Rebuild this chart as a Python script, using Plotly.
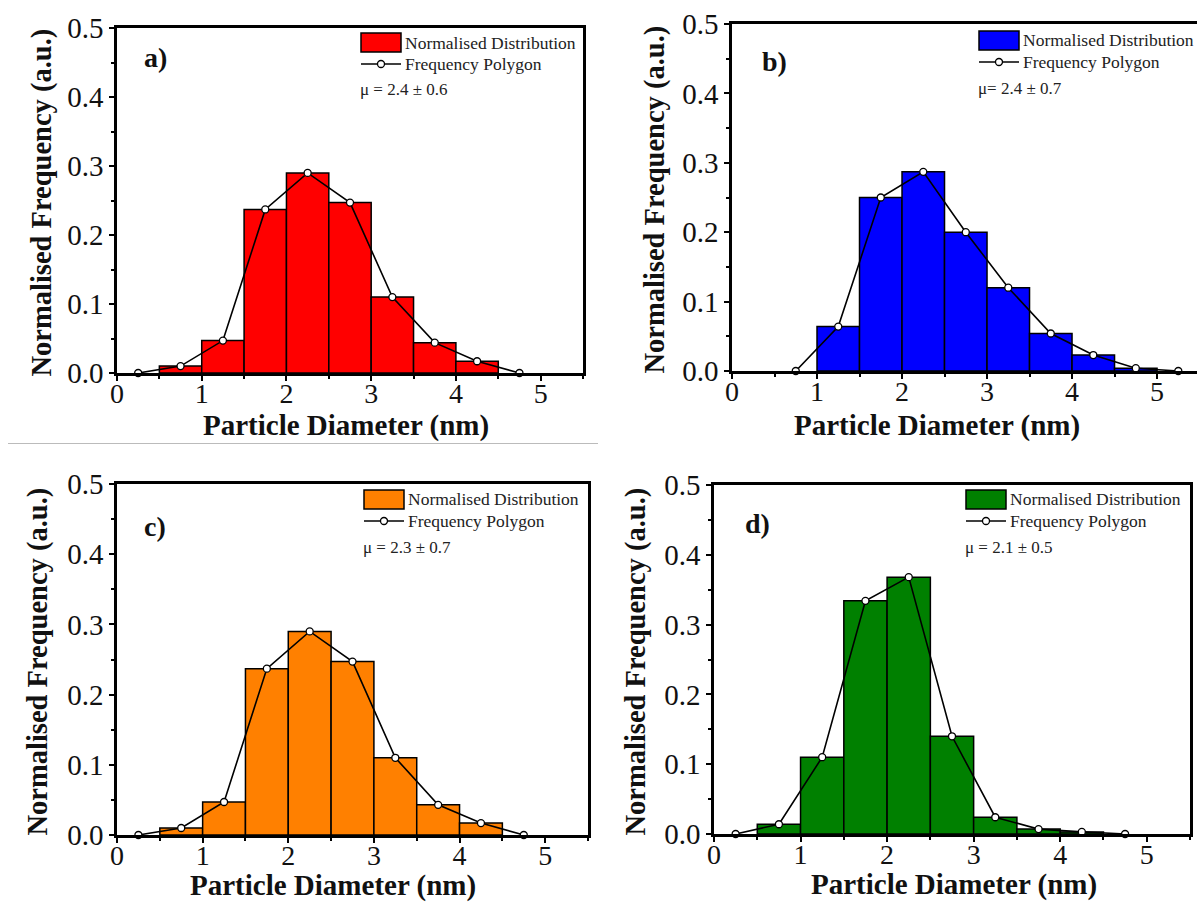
import plotly.graph_objects as go

W, H = 1197, 904

# ---- data -------------------------------------------------------------
panel_labels = ["a)", "b)", "c)", "d)"]
bar_colors = ["#FF0000", "#0000FF", "#FF8000", "#008000"]
mean_texts = ["μ = 2.4 ± 0.6", "μ= 2.4 ± 0.7", "μ = 2.3 ± 0.7", "μ = 2.1 ± 0.5"]

# histogram bins (centres, width 0.5 nm) and normalised frequencies
bins_a = [0.75, 1.25, 1.75, 2.25, 2.75, 3.25, 3.75, 4.25]
freq_a = [0.010, 0.047, 0.237, 0.290, 0.247, 0.110, 0.044, 0.017]

bins_b = [1.25, 1.75, 2.25, 2.75, 3.25, 3.75, 4.25, 4.75]
freq_b = [0.064, 0.250, 0.287, 0.200, 0.120, 0.054, 0.023, 0.004]

bins_c = [0.75, 1.25, 1.75, 2.25, 2.75, 3.25, 3.75, 4.25]
freq_c = [0.010, 0.047, 0.237, 0.290, 0.247, 0.110, 0.043, 0.017]

bins_d = [0.75, 1.25, 1.75, 2.25, 2.75, 3.25, 3.75, 4.25]
freq_d = [0.014, 0.110, 0.334, 0.368, 0.140, 0.024, 0.007, 0.003]

# frequency polygons (bin centres incl. the empty end bins)
poly_x_a = [0.25, 0.75, 1.25, 1.75, 2.25, 2.75, 3.25, 3.75, 4.25, 4.75]
poly_y_a = [0.0, 0.010, 0.047, 0.237, 0.290, 0.247, 0.110, 0.044, 0.017, 0.0]

poly_x_b = [0.75, 1.25, 1.75, 2.25, 2.75, 3.25, 3.75, 4.25, 4.75, 5.25]
poly_y_b = [0.0, 0.064, 0.250, 0.287, 0.200, 0.120, 0.054, 0.023, 0.004, 0.0]

poly_x_c = [0.25, 0.75, 1.25, 1.75, 2.25, 2.75, 3.25, 3.75, 4.25, 4.75]
poly_y_c = [0.0, 0.010, 0.047, 0.237, 0.290, 0.247, 0.110, 0.043, 0.017, 0.0]

poly_x_d = [0.25, 0.75, 1.25, 1.75, 2.25, 2.75, 3.25, 3.75, 4.25, 4.75]
poly_y_d = [0.0, 0.014, 0.110, 0.334, 0.368, 0.140, 0.024, 0.007, 0.003, 0.0]

x_ticks = [0, 1, 2, 3, 4, 5]
y_ticks = [0.0, 0.1, 0.2, 0.3, 0.4, 0.5]

bins = [bins_a, bins_b, bins_c, bins_d]
freqs = [freq_a, freq_b, freq_c, freq_d]
poly_x = [poly_x_a, poly_x_b, poly_x_c, poly_x_d]
poly_y = [poly_y_a, poly_y_b, poly_y_c, poly_y_d]

# ---- layout geometry (pixels) ------------------------------------------
# plot boxes: left, right, top, bottom, x range max
boxes = [
    (117, 583, 28, 373, 5.5),
    (732, 1197, 24, 371, 5.47),
    (117, 588, 484, 835, 5.5),
    (714, 1190, 485, 834, 5.5),
]
ytitle_x = [42, 654, 37, 635]
xtitle_pos = [(346, 425), (937, 425), (333, 885), (954, 884)]
label_pos = [(155, 57), (774, 61), (155, 526), (757, 523)]
# legend: swatch left x, swatch top y
legend_pos = [(361, 33), (979, 31), (364, 490), (966, 490)]

SERIF = "Liberation Serif, Times New Roman, serif"


def px(x):
    return x / W


def py(y):
    return 1 - y / H


fig = go.Figure()
layout = dict(
    width=W, height=H,
    margin=dict(l=0, r=0, t=0, b=0, autoexpand=False),
    paper_bgcolor="white", plot_bgcolor="white",
    showlegend=False,
    font=dict(family=SERIF, color="#111"),
)
shapes = []
annotations = []

for i in range(4):
    n = "" if i == 0 else str(i + 1)
    xa, ya = "x" + n, "y" + n
    l, r, t, b, xmax = boxes[i]

    fig.add_trace(go.Bar(
        x=bins[i], y=freqs[i], width=0.5,
        marker=dict(color=bar_colors[i], line=dict(color="black", width=1.5)),
        xaxis=xa, yaxis=ya, name="Normalised Distribution",
    ))
    fig.add_trace(go.Scatter(
        x=poly_x[i], y=poly_y[i], mode="lines+markers",
        line=dict(color="black", width=1.6),
        marker=dict(symbol="circle", size=7, color="white",
                    line=dict(color="black", width=1.3)),
        xaxis=xa, yaxis=ya, name="Frequency Polygon", cliponaxis=False,
    ))

    layout["xaxis" + n] = dict(
        domain=[px(l), px(r)], anchor=ya, range=[0, xmax],
        showline=True, linecolor="black", linewidth=2.5, mirror=True,
        ticks="outside", ticklen=5, tickwidth=2, tickcolor="black",
        tickvals=x_ticks, tickfont=dict(family=SERIF, size=28, color="#111"),
        ticklabelstandoff=-11,
        minor=dict(dtick=0.5, tick0=0, ticks="outside", ticklen=3,
                   tickwidth=1.5, tickcolor="black"),
        showgrid=False, zeroline=False, fixedrange=True, automargin=False,
    )
    layout["yaxis" + n] = dict(
        domain=[py(b), py(t)], anchor=xa, range=[0, 0.5],
        showline=True, linecolor="black", linewidth=2.5,
        mirror=(i != 1),
        ticks="outside", ticklen=5, tickwidth=2, tickcolor="black",
        tickvals=y_ticks, tickformat=".1f",
        tickfont=dict(family=SERIF, size=29, color="#111"),
        minor=dict(dtick=0.05, tick0=0, ticks="outside", ticklen=3,
                   tickwidth=1.5, tickcolor="black"),
        showgrid=False, zeroline=False, fixedrange=True, automargin=False,
    )

    # axis titles
    annotations.append(dict(
        text="<b>Normalised Frequency (a.u.)</b>", textangle=-90,
        x=px(ytitle_x[i]), y=py((t + b) / 2 + 2), xref="paper", yref="paper",
        showarrow=False, font=dict(family=SERIF, size=28.5, color="#111"),
        xanchor="center", yanchor="middle",
    ))
    annotations.append(dict(
        text="<b>Particle Diameter (nm)</b>",
        x=px(xtitle_pos[i][0]), y=py(xtitle_pos[i][1]),
        xref="paper", yref="paper",
        showarrow=False, font=dict(family=SERIF, size=29, color="#111"),
        xanchor="center", yanchor="middle", borderpad=0,
    ))
    # panel letter
    annotations.append(dict(
        text="<b>%s</b>" % panel_labels[i], x=px(label_pos[i][0]),
        y=py(label_pos[i][1]), xref="paper", yref="paper", showarrow=False,
        font=dict(family=SERIF, size=28, color="#111"),
        xanchor="center", yanchor="middle",
    ))

    # legend block
    sx, sy = legend_pos[i]
    sw, sh = 40, 19
    shapes.append(dict(type="rect", xref="paper", yref="paper",
                       x0=px(sx), x1=px(sx + sw), y0=py(sy + sh), y1=py(sy),
                       fillcolor=bar_colors[i],
                       line=dict(color="black", width=1.5)))
    annotations.append(dict(
        text="Normalised Distribution", x=px(sx + sw + 2), y=py(sy + sh / 2),
        xref="paper", yref="paper", showarrow=False, xanchor="left",
        yanchor="middle", font=dict(family=SERIF, size=17.5, color="#222"),
    ))
    ly = sy + 31
    shapes.append(dict(type="line", xref="paper", yref="paper",
                       x0=px(sx), x1=px(sx + sw), y0=py(ly), y1=py(ly),
                       line=dict(color="black", width=1.6)))
    shapes.append(dict(type="circle", xref="paper", yref="paper",
                       xsizemode="pixel", ysizemode="pixel",
                       xanchor=px(sx + sw / 2), yanchor=py(ly),
                       x0=-3.5, x1=3.5, y0=-3.5, y1=3.5,
                       fillcolor="white", line=dict(color="black", width=1.3)))
    annotations.append(dict(
        text="Frequency Polygon", x=px(sx + sw + 2), y=py(ly),
        xref="paper", yref="paper", showarrow=False, xanchor="left",
        yanchor="middle", font=dict(family=SERIF, size=17.5, color="#222"),
    ))
    annotations.append(dict(
        text=mean_texts[i], x=px(sx - 3), y=py(sy + 57),
        xref="paper", yref="paper", showarrow=False, xanchor="left",
        yanchor="middle", font=dict(family=SERIF, size=17, color="#222"),
    ))

# thin divider under the top-left panel
shapes.append(dict(type="line", xref="paper", yref="paper",
                   x0=px(8), x1=px(598), y0=py(443.5), y1=py(443.5),
                   line=dict(color="#BBBBBB", width=1)))

layout["shapes"] = shapes
layout["annotations"] = annotations
fig.update_layout(**layout)
fig.write_html("out.html")
